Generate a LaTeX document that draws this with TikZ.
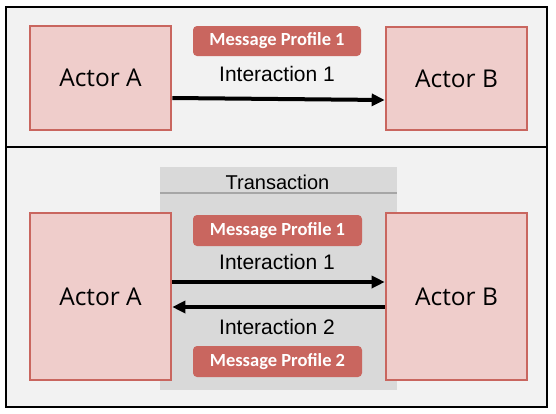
\documentclass[tikz,border=0pt]{standalone}
\usepackage{fontspec}
\setmainfont{Liberation Sans}
\newfontfamily\actorfont{Open Sans}
\newfontfamily\mpfont{Carlito Bold}
\usetikzlibrary{arrows.meta}
\definecolor{bgc}{HTML}{F2F2F2}
\definecolor{actfill}{HTML}{EFCDCB}
\definecolor{actline}{HTML}{C9665F}
\definecolor{trfill}{HTML}{D9D9D9}
\definecolor{trline}{HTML}{A6A6A6}
\tikzset{
  actor/.style={draw=actline, line width=2.6pt, fill=actfill, inner sep=0pt,
    font=\actorfont\fontsize{24.5}{28}\selectfont},
  profile/.style={fill=actline, rounded corners=4pt, inner sep=0pt, text=white,
    font=\mpfont\fontsize{18.5}{21}\selectfont},
  ilabel/.style={inner sep=0pt, font=\fontsize{21}{24}\selectfont},
  flow/.style={line width=4pt, -{Triangle[length=13pt,width=12pt]}},
  panel/.style={draw=black, line width=2.6pt, fill=bgc}
}
\begin{document}
\begin{tikzpicture}[x=1pt,y=-1pt]
\useasboundingbox (0,0) rectangle (556,413);
% panels
\draw[panel] (6,7) rectangle (547,147);
\draw[panel] (6,147) rectangle (547,407);
% transaction
\fill[trfill] (160,167) rectangle (397,390);
\draw[trline, line width=1.5pt] (160,193) -- (397,193);
\node[ilabel, font=\fontsize{20}{22}\selectfont] (tr) at (277.5,182) {Transaction};
% top
\node[actor, minimum width=141pt, minimum height=104pt] (a1) at (100.5,78) {Actor A};
\node[actor, minimum width=141pt, minimum height=103pt] (b1) at (456.5,78.5) {Actor B};
\node[profile, minimum width=168pt, minimum height=30pt] (mp1) at (277,41) {Message Profile 1};
\node[ilabel] (i1) at (277,74) {Interaction 1};
\coordinate (s1) at (a1.east |- 0,98);
\coordinate (e1) at (b1.west |- 0,100);
\draw[flow] (s1) -- (e1);
% bottom
\node[actor, minimum width=141pt, minimum height=167pt] (a2) at (100.5,296.5) {Actor A};
\node[actor, minimum width=141pt, minimum height=167pt] (b2) at (456.5,296.5) {Actor B};
\node[profile, minimum width=169pt, minimum height=31pt] (mp2) at (277.5,230.5) {Message Profile 1};
\node[ilabel] (i2) at (277,262) {Interaction 1};
\node[ilabel] (i3) at (277,327) {Interaction 2};
\node[profile, minimum width=169pt, minimum height=31pt] (mp3) at (277.5,361.5) {Message Profile 2};
\coordinate (s2) at (a2.east |- 0,282);
\coordinate (e2) at (b2.west |- 0,282);
\draw[flow] (s2) -- (e2);
\coordinate (s3) at (b2.west |- 0,307);
\coordinate (e3) at (a2.east |- 0,307);
\draw[flow] (s3) -- (e3);
\end{tikzpicture}
\end{document}
